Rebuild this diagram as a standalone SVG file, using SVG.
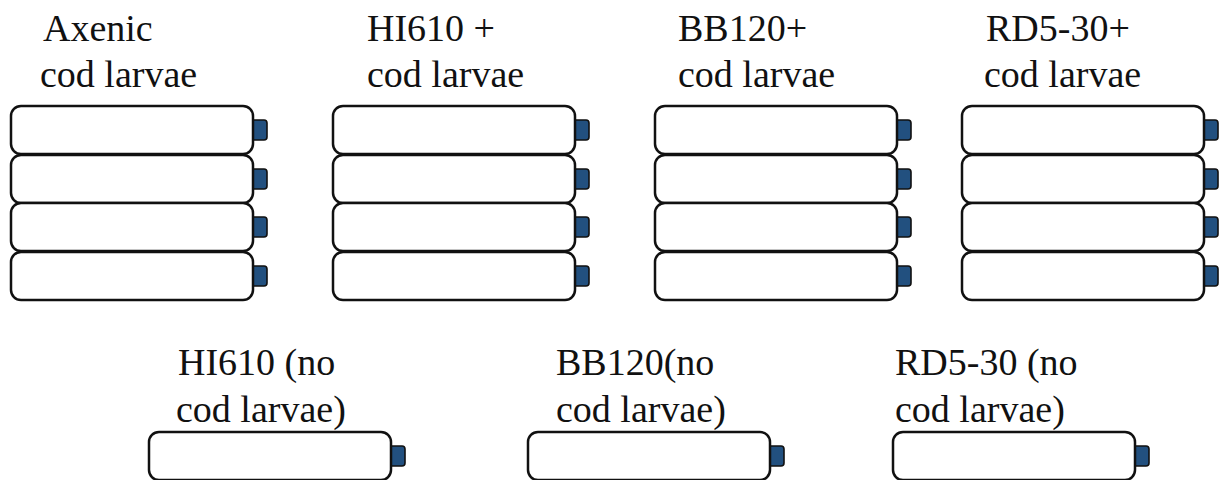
<svg xmlns="http://www.w3.org/2000/svg" width="1220" height="480" viewBox="0 0 1220 480">
  <defs>
    <!-- one culture flask lying on its side, cap to the right -->
    <g id="flask">
      <rect x="240" y="14" width="16" height="20" rx="3" fill="#22507f" stroke="#111" stroke-width="1.6"/>
      <rect x="0" y="0" width="242" height="48" rx="10" fill="#fff" stroke="#111" stroke-width="2.5"/>
    </g>
  </defs>
  <rect width="1220" height="480" fill="#fff"/>

  <g id="axenic">
    <text font-family="Liberation Serif" font-size="38" fill="#111" x="43" y="41">Axenic</text>
    <text font-family="Liberation Serif" font-size="38" fill="#111" x="40" y="87">cod larvae</text>
    <use href="#flask" x="11" y="106"/>
    <use href="#flask" x="11" y="155"/>
    <use href="#flask" x="11" y="203"/>
    <use href="#flask" x="11" y="252"/>
  </g>

  <g id="hi610-larvae">
    <text font-family="Liberation Serif" font-size="38" fill="#111" x="367" y="41">HI610 +</text>
    <text font-family="Liberation Serif" font-size="38" fill="#111" x="367" y="87">cod larvae</text>
    <use href="#flask" x="333" y="106"/>
    <use href="#flask" x="333" y="155"/>
    <use href="#flask" x="333" y="203"/>
    <use href="#flask" x="333" y="252"/>
  </g>

  <g id="bb120-larvae">
    <text font-family="Liberation Serif" font-size="38" fill="#111" x="678" y="41">BB120+</text>
    <text font-family="Liberation Serif" font-size="38" fill="#111" x="678" y="87">cod larvae</text>
    <use href="#flask" x="655" y="106"/>
    <use href="#flask" x="655" y="155"/>
    <use href="#flask" x="655" y="203"/>
    <use href="#flask" x="655" y="252"/>
  </g>

  <g id="rd5-30-larvae">
    <text font-family="Liberation Serif" font-size="38" fill="#111" x="986" y="41">RD5-30+</text>
    <text font-family="Liberation Serif" font-size="38" fill="#111" x="984" y="87">cod larvae</text>
    <use href="#flask" x="962" y="106"/>
    <use href="#flask" x="962" y="155"/>
    <use href="#flask" x="962" y="203"/>
    <use href="#flask" x="962" y="252"/>
  </g>

  <g id="hi610-only">
    <text font-family="Liberation Serif" font-size="38" fill="#111" x="178" y="375">HI610 (no</text>
    <text font-family="Liberation Serif" font-size="38" fill="#111" x="176" y="422">cod larvae)</text>
    <use href="#flask" x="149" y="432"/>
  </g>

  <g id="bb120-only">
    <text font-family="Liberation Serif" font-size="38" fill="#111" x="556" y="375">BB120(no</text>
    <text font-family="Liberation Serif" font-size="38" fill="#111" x="556" y="422">cod larvae)</text>
    <use href="#flask" x="528" y="432"/>
  </g>

  <g id="rd5-30-only">
    <text font-family="Liberation Serif" font-size="38" fill="#111" x="895" y="375">RD5-30 (no</text>
    <text font-family="Liberation Serif" font-size="38" fill="#111" x="895" y="422">cod larvae)</text>
    <use href="#flask" x="893" y="432"/>
  </g>

  <g id="connectors"/>
</svg>
